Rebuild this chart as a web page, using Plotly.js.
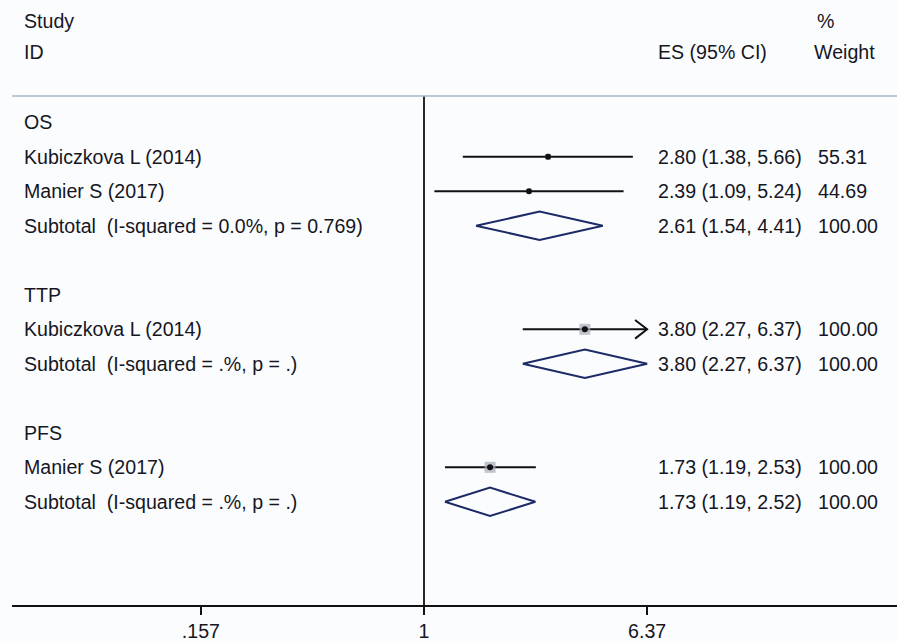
<!DOCTYPE html>
<html>
<head>
<meta charset="utf-8">
<script src="https://cdn.plot.ly/plotly-3.0.1.min.js"></script>
<style>
  html, body { margin: 0; padding: 0; background: #fbfcfe; }
  #chart { width: 897px; height: 643px; }
</style>
</head>
<body>
<div id="chart"></div>
<script>
// Forest plot: subgroup meta-analysis (OS / TTP / PFS), log-scale effect sizes.

const rowLabels = [
  'OS',
  'Kubiczkova L (2014)',
  'Manier S (2017)',
  'Subtotal\u00a0 (I-squared = 0.0%, p = 0.769)',
  'TTP',
  'Kubiczkova L (2014)',
  'Subtotal\u00a0 (I-squared = .%, p = .)',
  'PFS',
  'Manier S (2017)',
  'Subtotal\u00a0 (I-squared = .%, p = .)'
];
const rowKinds = ['group', 'study', 'study', 'subtotal', 'group', 'study', 'subtotal', 'group', 'study', 'subtotal'];
const esValues = [null, 2.80, 2.39, 2.61, null, 3.80, 3.80, null, 1.73, 1.73];
const ciLower  = [null, 1.38, 1.09, 1.54, null, 2.27, 2.27, null, 1.19, 1.19];
const ciUpper  = [null, 5.66, 5.24, 4.41, null, 6.37, 6.37, null, 2.53, 2.52];
const weights  = [null, 55.31, 44.69, 100.00, null, 100.00, 100.00, null, 100.00, 100.00];

const tickValues = [0.157, 1, 6.37];
const tickLabels = ['.157', '1', '6.37'];

// ---- layout helpers -------------------------------------------------------
const FONT = 'Liberation Sans, Arial, Helvetica, sans-serif';
const TEXT_COLOR = '#16161e';
const FS = 19.6;

// row positions: consecutive rows, one blank row before every group after the first
const rowY = [];
let cursor = -1;
rowKinds.forEach((k, i) => {
  if (k === 'group' && i > 0) cursor += 1;
  rowY.push(cursor);
  cursor += 1;
});

const yTop = -1.76, yBottom = 12.99;
const xMax = Math.max(...tickValues);

// weight-box sizes (px) for the study rows
const boxSize = [0, 6, 5, 0, 0, 11, 0, 0, 11, 0];

const traces = [];

// no-effect reference line at 1
traces.push({
  x: [1, 1], y: [yTop, yBottom], mode: 'lines', type: 'scatter',
  line: { color: '#111', width: 1.8 }, hoverinfo: 'skip', cliponaxis: false
});

// confidence-interval lines for individual studies
const ciX = [], ciY = [];
const arrX = [], arrY = [];
rowKinds.forEach((k, i) => {
  if (k !== 'study') return;
  ciX.push(ciLower[i], ciUpper[i], null);
  ciY.push(rowY[i], rowY[i], null);
  if (ciUpper[i] >= xMax) {
    const back = ciUpper[i] * Math.exp(-0.1);
    arrX.push(back, ciUpper[i], back, null);
    arrY.push(rowY[i] - 0.27, rowY[i], rowY[i] + 0.27, null);
  }
});
traces.push({
  x: ciX, y: ciY, mode: 'lines', type: 'scatter',
  line: { color: '#111', width: 2 }, hoverinfo: 'skip'
});
traces.push({
  x: arrX, y: arrY, mode: 'lines', type: 'scatter',
  line: { color: '#111', width: 2 }, hoverinfo: 'skip'
});

// weight boxes and point estimates
const sx = [], sy = [], ss = [];
rowKinds.forEach((k, i) => {
  if (k !== 'study') return;
  sx.push(esValues[i]); sy.push(rowY[i]); ss.push(boxSize[i]);
});
traces.push({
  x: sx, y: sy, mode: 'markers', type: 'scatter',
  marker: { symbol: 'square', size: ss, color: '#a3acb5', line: { width: 0 } },
  hoverinfo: 'skip'
});
traces.push({
  x: sx, y: sy, mode: 'markers', type: 'scatter',
  marker: { symbol: 'circle', size: 6, color: '#111' },
  hoverinfo: 'skip'
});

// pooled-estimate diamonds
const dX = [], dY = [];
const halfH = 0.41;
rowKinds.forEach((k, i) => {
  if (k !== 'subtotal') return;
  dX.push(ciLower[i], esValues[i], ciUpper[i], esValues[i], ciLower[i], null);
  dY.push(rowY[i], rowY[i] - halfH, rowY[i], rowY[i] + halfH, rowY[i], null);
});
traces.push({
  x: dX, y: dY, mode: 'lines', type: 'scatter',
  line: { color: '#1c2a66', width: 2 }, hoverinfo: 'skip'
});

// ---- text columns ---------------------------------------------------------
const plotLeft = 12, plotWidth = 885, plotTopPx = 96, plotBottomPx = 605;
const px2paperX = p => (p - plotLeft) / plotWidth;
const px2paperY = p => (plotBottomPx - p) / (plotBottomPx - plotTopPx);

const ann = [];
const txt = (x, y, text, xref, yref) => ({
  x, y, xref, yref, text, showarrow: false, xanchor: 'left', yanchor: 'middle',
  font: { family: FONT, size: FS, color: TEXT_COLOR }
});

// header
ann.push(txt(px2paperX(22), px2paperY(21), 'Study', 'paper', 'paper'));
ann.push(txt(px2paperX(22), px2paperY(52), 'ID', 'paper', 'paper'));
ann.push(txt(px2paperX(656), px2paperY(52), 'ES (95% CI)', 'paper', 'paper'));
ann.push(txt(px2paperX(815), px2paperY(21), '%', 'paper', 'paper'));
ann.push(txt(px2paperX(812), px2paperY(52), 'Weight', 'paper', 'paper'));

rowLabels.forEach((lab, i) => {
  ann.push(txt(px2paperX(22), rowY[i], lab, 'paper', 'y'));
  if (esValues[i] !== null) {
    const s = esValues[i].toFixed(2) + ' (' + ciLower[i].toFixed(2) + ', ' + ciUpper[i].toFixed(2) + ')';
    ann.push(txt(px2paperX(656), rowY[i], s, 'paper', 'y'));
    ann.push(txt(px2paperX(816), rowY[i], weights[i].toFixed(2), 'paper', 'y'));
  }
});

const logLo = Math.log10(Math.exp((plotLeft - 424) / 120.5));
const logHi = Math.log10(Math.exp((897 - 424) / 120.5));

const layout = {
  width: 897, height: 643,
  margin: { l: plotLeft, r: 0, t: plotTopPx, b: 643 - plotBottomPx, pad: 0 },
  paper_bgcolor: '#fbfcfe', plot_bgcolor: '#fbfcfe',
  showlegend: false,
  font: { family: FONT, size: FS, color: TEXT_COLOR },
  xaxis: {
    type: 'log', range: [logLo, logHi],
    showgrid: false, zeroline: false,
    showline: true, linecolor: '#111', linewidth: 1.8,
    ticks: 'outside', ticklen: 8, tickwidth: 1.8, tickcolor: '#111',
    tickvals: tickValues, ticktext: tickLabels,
    tickfont: { family: FONT, size: FS, color: TEXT_COLOR },
    fixedrange: true
  },
  yaxis: {
    range: [yBottom, yTop],
    showgrid: false, zeroline: false, showline: false,
    showticklabels: false, ticks: '', fixedrange: true
  },
  shapes: [{
    type: 'line', xref: 'paper', yref: 'paper', x0: 0, x1: 1, y0: 1, y1: 1,
    line: { color: '#a6bbc6', width: 1.6 }
  }],
  annotations: ann
};

Plotly.newPlot('chart', traces, layout, { displayModeBar: false, staticPlot: true });
</script>
</body>
</html>
